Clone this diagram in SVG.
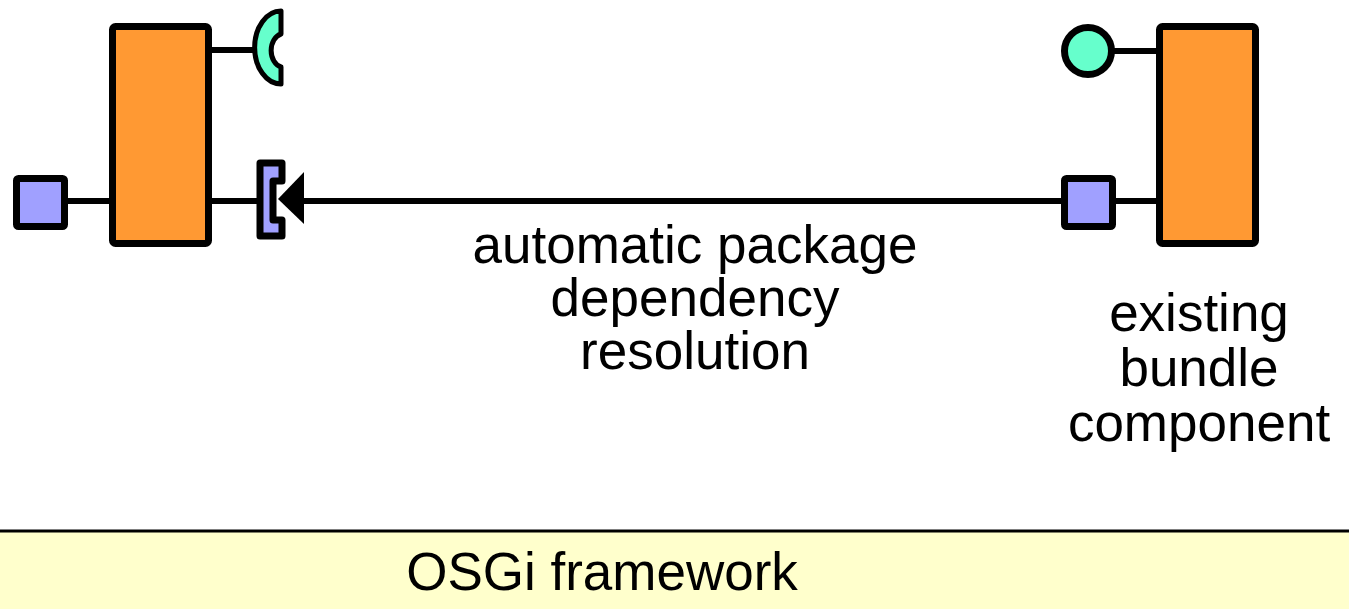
<svg xmlns="http://www.w3.org/2000/svg" width="1349" height="609" viewBox="0 0 1349 609">
<style>
.bundle{fill:#FF9933;stroke:#000;stroke-width:7;stroke-linejoin:round}
.pkg{fill:#A0A0FF;stroke:#000;stroke-width:7;stroke-linejoin:round}
.svc{fill:#66FFCC;stroke:#000;stroke-width:7}
.req{fill:#66FFCC;stroke:#000;stroke-width:5;stroke-linejoin:round}
.wire{stroke:#000;stroke-width:6;fill:none}
.lbl{font-family:"Liberation Sans",Arial,sans-serif;font-size:53px;fill:#000;text-anchor:middle}
</style>
<rect x="0" y="0" width="1349" height="609" fill="#fff"/>
<g id="framework">
<rect x="0" y="531" width="1349" height="78" fill="#FFFFCC"/>
<line x1="0" y1="531" x2="1349" y2="531" stroke="#000" stroke-width="3"/>
<text class="lbl" x="602" y="590">OSGi framework</text>
</g>
<g id="connectors">
<line class="wire" x1="66" y1="201" x2="110" y2="201"/>
<line class="wire" x1="210" y1="201" x2="259" y2="201"/>
<line class="wire" x1="210" y1="50" x2="256" y2="50"/>
<line class="wire" x1="1112" y1="201" x2="1158" y2="201"/>
<line class="wire" x1="1110" y1="51" x2="1158" y2="51"/>
<line class="wire" x1="300" y1="201" x2="1062" y2="201"/>
<polygon points="278,199 304,172 304,224" fill="#000"/>
</g>
<g id="new-bundle">
<rect class="bundle" x="112.5" y="26.5" width="96" height="217" rx="3"/>
</g>
<g id="new-bundle-export">
<rect class="pkg" x="16.5" y="178.5" width="48" height="48" rx="2"/>
</g>
<g id="new-bundle-required-service">
<path class="req" d="M 281 11 A 26 36 0 0 0 281 84 L 281 67 A 13 17 0 0 1 281 34 Z"/>
</g>
<g id="new-bundle-import">
<path class="pkg" d="M 282 163 L 260 163 L 260 236 L 282 236 L 282 220 L 273 220 L 273 181 L 282 181 Z"/>
</g>
<g id="existing-bundle">
<rect class="bundle" x="1159.5" y="26.5" width="96" height="217" rx="3"/>
</g>
<g id="existing-bundle-service">
<circle class="svc" cx="1088" cy="51" r="23.5"/>
</g>
<g id="existing-bundle-export">
<rect class="pkg" x="1064.5" y="178.5" width="48" height="48" rx="2"/>
</g>
<g id="resolution-label">
<text class="lbl" x="695" y="263">automatic package</text>
<text class="lbl" x="695" y="316">dependency</text>
<text class="lbl" x="695" y="369">resolution</text>
</g>
<g id="existing-label">
<text class="lbl" x="1199" y="331">existing</text>
<text class="lbl" x="1199" y="386">bundle</text>
<text class="lbl" x="1199" y="441">component</text>
</g>
</svg>
